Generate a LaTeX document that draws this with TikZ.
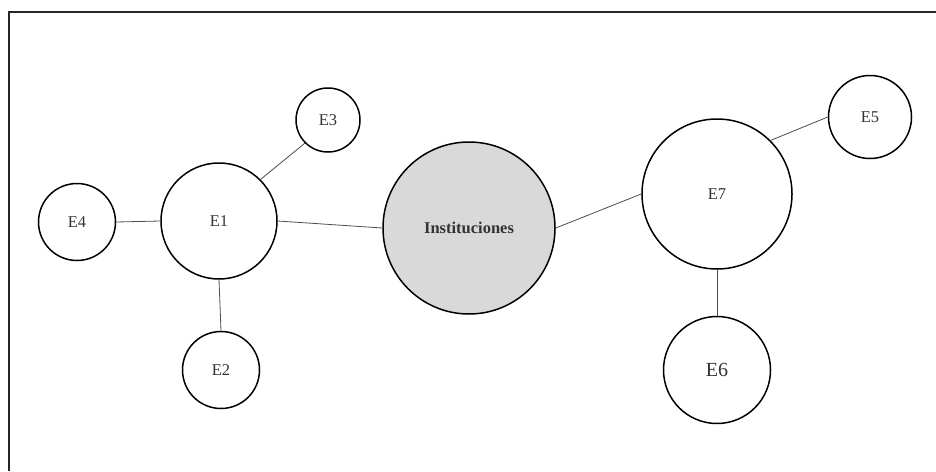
\documentclass[tikz,border=0pt]{standalone}
\usepackage{fontspec}
\setmainfont{Liberation Serif}
\begin{document}
\begin{tikzpicture}[x=1pt,y=-1pt,
  ent/.style={circle,draw=black,line width=1.5pt,fill=white,inner sep=0pt,
    text=black!80,font=\fontsize{16.5}{19}\selectfont},
  hub/.style={ent,fill=black!15,font=\fontsize{16.5}{19}\selectfont\bfseries},
  link/.style={draw=black!70,line width=0.8pt}]
\useasboundingbox (0,0) rectangle (936,471);
% frame edges
\draw[line width=1.5pt,black!85] (9,471) -- (9,12) -- (936,12);

% entities
\node[hub, minimum size=172pt] (inst) at (469,228) {Instituciones};
\node[ent, minimum size=116pt] (e1) at (219,221) {E1};
\node[ent, minimum size=64pt]  (e3) at (328,120) {E3};
\node[ent, minimum size=77pt]  (e4) at (77,222)  {E4};
\node[ent, minimum size=77pt]  (e2) at (221,370) {E2};
\node[ent, minimum size=150pt] (e7) at (717,194) {E7};
\node[ent, minimum size=83pt]  (e5) at (870,117) {E5};
\node[ent, minimum size=107pt, font=\fontsize{20}{23}\selectfont] (e6) at (717,370) {E6};

% connections
\draw[link] (e4.east) -- (e1.west);
\draw[link] (e1.north east) -- (e3.south west);
\draw[link] (e1.south) -- (e2.north);
\draw[link] (e1.east) -- (inst.west);
\draw[link] (inst.east) -- (e7.west);
\draw[link] (e7.north east) -- (e5.west);
\draw[link] (e7.south) -- (e6.north);
\end{tikzpicture}
\end{document}
